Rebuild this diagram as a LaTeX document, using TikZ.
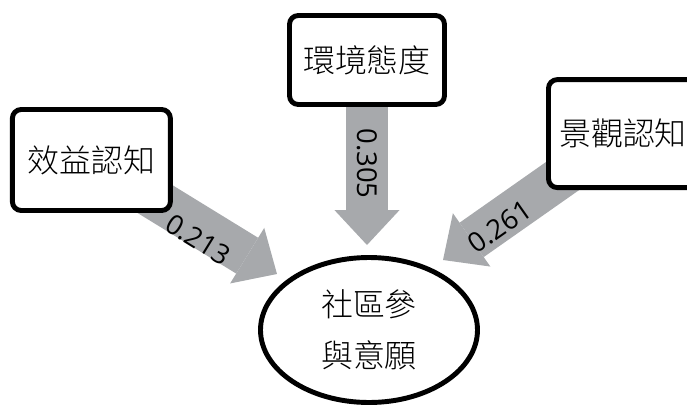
\documentclass[tikz,border=0pt]{standalone}
\usepackage{fontspec}
\usepackage{xcolor}
\usepackage{tikz}
\usetikzlibrary{shapes.geometric, arrows.meta, positioning, backgrounds}

\newfontfamily\cjk{Noto Sans CJK TC}[UprightFont=* Light]
\newfontfamily\numfont{Open Sans}
\definecolor{pathgray}{RGB}{167,169,172}

\begin{document}
\begin{tikzpicture}[
    box/.style={rectangle, draw, line width=3.5pt, rounded corners=0.22cm, fill=white, align=center, font=\cjk\fontsize{22.7}{27}\selectfont},
    goal/.style={ellipse, draw, line width=3.5pt, fill=white, inner sep=0pt, minimum width=5.425cm, minimum height=3.625cm, align=center, font=\cjk\fontsize{22.7}{36.3}\selectfont},
    effect/.style={line width=1.05cm, draw=pathgray, -{Triangle[width=1.63cm, length=0.875cm, line width=0pt]}},
    coef/.style={font=\numfont\fontsize{19.5}{21}\selectfont, inner sep=0pt, sloped}
]
\clip (-9.225,-1.875) rectangle (7.95,8.25);

\node[goal] (will) at (0,0) {社區參\\與意願};
\node[box, minimum width=3.95cm, minimum height=2.525cm] (benefit) at (-6.94,4.25) {效益認知};
\node[box, minimum width=3.875cm, minimum height=2.225cm] (attitude) at (-0.05,6.75) {環境態度};
\node[box, minimum width=3.725cm, minimum height=2.7cm] (landscape) at (6.35,4.91) {景觀認知};

% arrow tips just short of the ellipse
\coordinate (benefitTip) at (-2.3,1.4);
\coordinate (attitudeTip) at (-0.05,2.125);
\coordinate (landscapeTip) at (1.85,1.75);

\begin{scope}[on background layer]
\draw[effect] (benefit.center) -- (benefitTip) node[coef, pos=0.61, yshift=-0.3cm] {0.213};
\draw[effect] (attitude.center) -- (attitudeTip) node[coef, pos=0.56, allow upside down] {0.305};
\draw[effect] (landscape.center) -- (landscapeTip) node[coef, pos=0.7, yshift=-0.13cm] {0.261};
\end{scope}
\end{tikzpicture}
\end{document}
